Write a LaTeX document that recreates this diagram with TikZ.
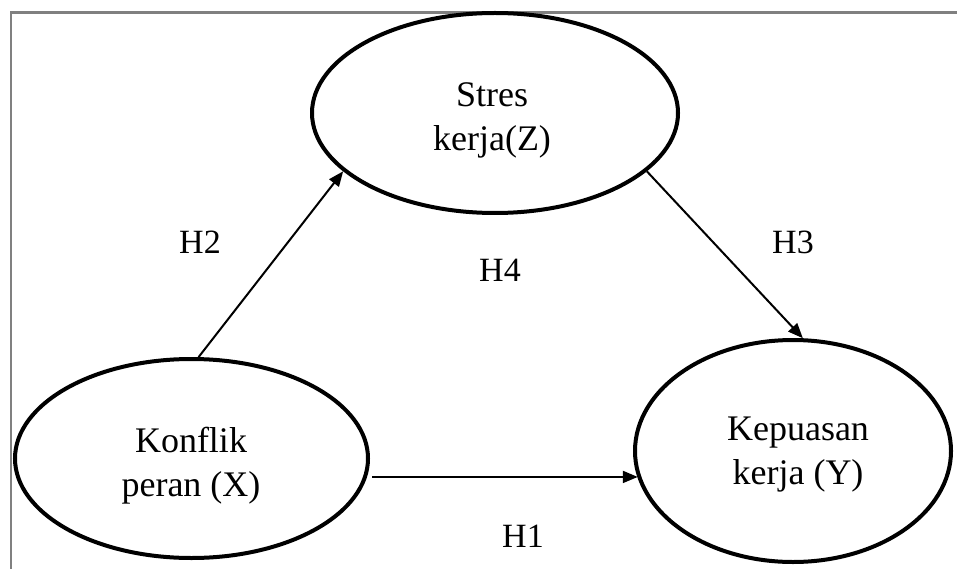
\documentclass[tikz,border=0pt]{standalone}
\usepackage{fontspec}
\setmainfont{Liberation Serif}
\usetikzlibrary{shapes.geometric,arrows.meta}
\begin{document}
\begin{tikzpicture}[x=1pt,y=-1pt,
  var/.style={ellipse,draw=black,line width=4pt,inner sep=0pt},
  vtxt/.style={inner sep=0pt,align=center,font=\fontsize{36}{44}\selectfont},
  hlab/.style={inner sep=0pt,font=\fontsize{34}{40}\selectfont},
  link/.style={line width=2pt,-{Triangle[length=15pt,width=12pt]}},
  frame/.style={draw=black!50,line width=2.5pt}]
\useasboundingbox (0,0) rectangle (957,569);
\coordinate (ftl) at (11,12.5);
\coordinate (ftr) at (957,12.5);
\coordinate (fbl) at (11,569);
\draw[frame] (ftr) -- (ftl) -- (fbl);
% variables
\node[var,minimum width=353pt,minimum height=199pt] (x) at (191.5,458.5) {};
\node[var,minimum width=366pt,minimum height=200pt] (z) at (495,113) {};
\node[var,minimum width=316pt,minimum height=222pt] (y) at (793,451) {};
\node[vtxt] (xt) at (191,466) {Konflik\\peran (X)};
\node[vtxt] (zt) at (492,120) {Stres\\kerja(Z)};
\node[vtxt] (yt) at (798,455) {Kepuasan\\kerja (Y)};
% paths
\draw[link] (x.86.4) -- (z.201.4);
\draw[link] (z.339.8) -- (y.85.5);
\draw[link,shorten <=5pt] (x.-6.4) -- (y.190 |- x.-6.4);
% labels
\node[hlab] (h2) at (200,242) {H2};
\node[hlab] (h3) at (793,242) {H3};
\node[hlab] (h4) at (500,270) {H4};
\node[hlab] (h1) at (523,536) {H1};
\end{tikzpicture}
\end{document}
